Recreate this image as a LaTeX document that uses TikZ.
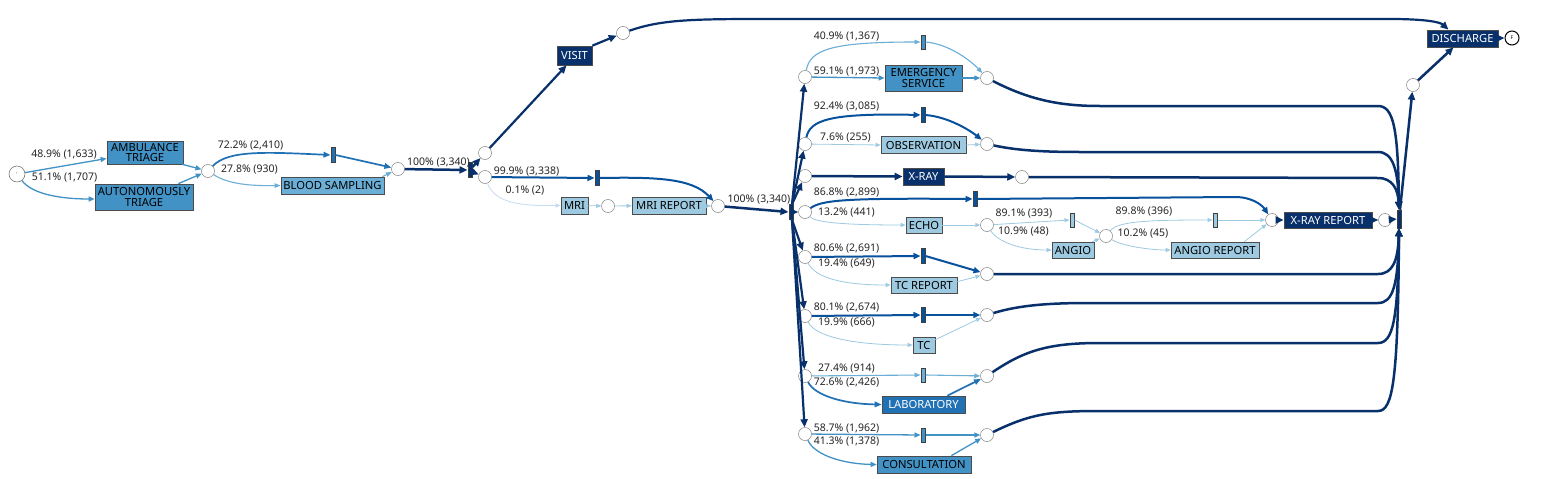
\documentclass[tikz,border=0pt]{standalone}
\usepackage{fontspec}
\setmainfont{Noto Sans}
\usetikzlibrary{arrows.meta}
\definecolor{cthree}{HTML}{C6DBEF}
\definecolor{cfour}{HTML}{9ECAE1}
\definecolor{cfive}{HTML}{6BAED6}
\definecolor{csix}{HTML}{4292C6}
\definecolor{cseven}{HTML}{2171B5}
\definecolor{ceight}{HTML}{08519C}
\definecolor{cnine}{HTML}{08306B}
\tikzset{
  box/.style={draw=black!70, line width=0.7pt, inner sep=0.5pt, align=center, font=\fontsize{11.2}{10.5}\selectfont, text=black},
  dbox/.style={box, text=white},
  pl/.style={circle, draw=black!50, fill=white, line width=0.5pt, minimum size=13pt, inner sep=0pt},
  tb/.style={draw=black!75, line width=0.5pt, minimum width=4.5pt, minimum height=15pt, inner sep=0pt},
  lb/.style={font=\fontsize{10.5}{10.5}\selectfont, inner sep=0pt, text=black!85},
  wnine/.style={draw=cnine, line width=2.5pt, -{Triangle[length=8pt,width=7pt]}},
  weight/.style={draw=ceight, line width=2pt, -{Triangle[length=7pt,width=6pt]}},
  wseven/.style={draw=cseven, line width=1.7pt, -{Triangle[length=7pt,width=5.5pt]}},
  wsix/.style={draw=csix, line width=1.3pt, -{Triangle[length=6pt,width=5pt]}},
  wfive/.style={draw=cfive, line width=1.1pt, -{Triangle[length=6pt,width=4.5pt]}},
  wfour/.style={draw=cfour, line width=0.8pt, -{Triangle[length=5pt,width=4pt]}},
  wthree/.style={draw=cthree, line width=0.8pt, -{Triangle[length=5pt,width=4pt]}},
}
\begin{document}
\begin{tikzpicture}[x=1pt,y=-1pt]
\useasboundingbox[fill=white] (0,0) rectangle (1558,479);

% ---------- nodes ----------
\node[pl, minimum size=16pt, draw=black!60] (S) at (17,174) {\fontsize{6}{6}\selectfont ·};
\node[box, fill=csix, minimum width=76pt, minimum height=23pt] (amb) at (145,152.5) {AMBULANCE\\TRIAGE};
\node[box, fill=csix, minimum width=98pt, minimum height=26pt] (auto) at (144,197) {AUTONOMOUSLY\\TRIAGE};
\node[pl] (p1) at (208,171) {};
\node[tb, fill=cseven] (bar1) at (333,155) {};
\node[box, fill=cfive, minimum width=103pt, minimum height=17pt] (blood) at (332.5,185.5) {BLOOD SAMPLING};
\node[pl] (p2) at (398,169) {};
\node[tb, fill=cnine] (and1) at (470,170) {};
\node[pl] (pu) at (485,153) {};
\node[pl] (pl2) at (485,177) {};
\node[dbox, fill=cnine, minimum width=35pt, minimum height=19pt] (visit) at (574.5,55.5) {VISIT};
\node[pl] (pv) at (623,33) {};
\node[tb, fill=ceight] (bar2) at (597,178) {};
\node[box, fill=cfour, minimum width=27pt, minimum height=17pt] (mri) at (574.5,205.5) {MRI};
\node[pl] (pm) at (608,206) {};
\node[box, fill=cfour, minimum width=74pt, minimum height=17pt] (mrirep) at (669,205.5) {MRI REPORT};
\node[pl] (pmr) at (718,206) {};
\node[tb, fill=cnine, minimum height=15pt] (and2) at (791,212) {};

\node[pl] (sES) at (805,77) {};
\node[pl] (sOB) at (805,144) {};
\node[pl] (sXR) at (805,176) {};
\node[pl] (sEC) at (805,212) {};
\node[pl] (sTR) at (805,257) {};
\node[pl] (sTC) at (805,316) {};
\node[pl] (sLA) at (805,376) {};
\node[pl] (sCO) at (805,434) {};

\node[tb, fill=csix, minimum height=14pt] (barES) at (923,42) {};
\node[box, fill=csix, minimum width=77pt, minimum height=26pt] (es) at (923.5,78) {EMERGENCY\\SERVICE};
\node[pl] (jES) at (987,78) {};

\node[tb, fill=ceight] (barOB) at (923,115) {};
\node[box, fill=cfour, minimum width=85pt, minimum height=17pt] (obs) at (923.5,145) {OBSERVATION};
\node[pl] (jOB) at (987,144) {};

\node[dbox, fill=cnine, minimum width=41pt, minimum height=17pt] (xray) at (923.5,176.5) {X-RAY};
\node[pl] (jXR) at (1022,177) {};

\node[tb, fill=ceight] (barEC) at (975,199) {};
\node[box, fill=cfour, minimum width=36pt, minimum height=16pt] (echo) at (924,225) {ECHO};
\node[pl] (pEC) at (987,225) {};
\node[tb, fill=cfour, minimum height=14pt] (barAN) at (1072,220) {};
\node[box, fill=cfour, minimum width=42pt, minimum height=16pt] (angio) at (1073,250) {ANGIO};
\node[pl] (pAN) at (1106,236) {};
\node[tb, fill=cfour, minimum height=14pt] (barAR) at (1215,220) {};
\node[box, fill=cfour, minimum width=88pt, minimum height=16pt] (angiorep) at (1215,250) {ANGIO REPORT};
\node[pl] (pXR) at (1272,220) {};
\node[dbox, fill=cnine, minimum width=88pt, minimum height=16pt] (xrayrep) at (1328,220) {X-RAY REPORT};
\node[pl] (pXRb) at (1385,220) {};
\node[tb, fill=cnine, minimum width=4pt, minimum height=18pt] (bigbar) at (1399,219) {};

\node[tb, fill=ceight] (barTR) at (923,256) {};
\node[box, fill=cfour, minimum width=66pt, minimum height=16pt] (tcrep) at (924,285) {TC REPORT};
\node[pl] (jTR) at (987,274) {};

\node[tb, fill=ceight] (barTC) at (923,315) {};
\node[box, fill=cfour, minimum width=22pt, minimum height=16pt] (tc) at (924,345) {TC};
\node[pl] (jTC) at (987,315) {};

\node[tb, fill=cfive, minimum height=14pt] (barLA) at (923,375) {};
\node[dbox, fill=cseven, minimum width=83pt, minimum height=17pt] (lab) at (923.5,404.5) {LABORATORY};
\node[pl] (jLA) at (987,376) {};

\node[tb, fill=csix, minimum height=14pt] (barCO) at (923,435) {};
\node[box, fill=csix, minimum width=94pt, minimum height=17pt] (cons) at (924,464.5) {CONSULTATION};
\node[pl] (jCO) at (987,435) {};

\node[pl] (pD) at (1413,85) {};
\node[dbox, fill=cnine, minimum width=71pt, minimum height=17pt] (disch) at (1462.5,38.5) {DISCHARGE};
\node[circle, draw=black, line width=1pt, fill=white, minimum size=14pt, inner sep=0pt] (F) at (1512,38) {\fontsize{5}{5}\selectfont F};

% ---------- edges: start ----------
\draw[wsix] (S) -- ([yshift=-6pt]amb.west);
\draw[wsix] (S) .. controls (32,194) and (60,199) .. ([yshift=-2pt]auto.west);
\draw[wsix] ([xshift=-1pt]amb.south east) -- (p1);
\draw[wsix] ([xshift=-15pt]auto.north east) -- (p1);
\draw[wseven] (p1) .. controls (228,150) and (265,152) .. (bar1.west);
\draw[wfive] (p1) .. controls (228,184) and (250,186) .. (blood.west);
\draw[wseven] (bar1.east) -- (p2);
\draw[wfive] ([xshift=-2pt]blood.north east) -- (p2);
\draw[wnine] (p2) -- (and1.west);
\draw[wnine] ([yshift=3pt]and1.east) -- (pu);
\draw[wnine] ([yshift=-2pt]and1.east) -- (pl2);
\draw[wnine, line width=2.2pt] (pu) -- ([xshift=-8pt]visit.south);
\draw[wnine, line width=2.2pt] (visit.north east) -- (pv);
\draw[wnine, line width=2.2pt] (pv) .. controls (660,20) and (690,19) .. (760,19) -- (1390,19) .. controls (1425,19) and (1440,22) .. ([xshift=-14pt]disch.north);
\draw[weight] (pl2) -- (bar2.west);
\draw[wthree] (pl2) .. controls (495,203) and (520,206) .. (mri.west);
\draw[wfour] (mri) -- (pm);
\draw[wfour] (pm) -- (mrirep);
\draw[wfour] (mrirep) -- (pmr);
\draw[weight] (bar2.east) .. controls (655,177) and (692,178) .. (pmr);
\draw[wnine] (pmr) -- (and2.west);

% AND split
\draw[wnine, line width=2.2pt] ([xshift=1pt]and2.north) -- (sES);
\draw[wnine, line width=2.2pt] ([xshift=1pt]and2.north) -- (sOB);
\draw[wnine, line width=2.2pt] ([xshift=1pt]and2.north) -- (sXR);
\draw[wnine, line width=2.2pt] (and2.east) -- (sEC);
\draw[wnine, line width=2.2pt] ([xshift=1pt]and2.south) -- (sTR);
\draw[wnine, line width=2.2pt] ([xshift=1pt]and2.south) -- (sTC);
\draw[wnine, line width=2.2pt] ([xshift=1pt]and2.south) -- (sLA);
\draw[wnine, line width=2.2pt] ([xshift=1pt]and2.south) -- (sCO);

% ES
\draw[wfive] (sES) .. controls (810,50) and (830,42) .. (barES.west);
\draw[wsix] (sES) -- (es.west);
\draw[wfive] (barES.east) .. controls (950,44) and (972,62) .. (jES);
\draw[wsix] (es.east) -- (jES);
% OBS
\draw[weight] (sOB) .. controls (810,120) and (830,113) .. (barOB.west);
\draw[wfour] (sOB) -- (obs.west);
\draw[weight] (barOB.east) .. controls (950,117) and (972,132) .. (jOB);
\draw[wfour] (obs.east) -- (jOB);
% XR
\draw[wnine] (sXR) -- (xray.west);
\draw[wnine] (xray.east) -- (jXR);
% ECHO
\draw[weight] (sEC) .. controls (822,200) and (845,198) .. (barEC.west);
\draw[wfour] (sEC) .. controls (815,222) and (840,225) .. (echo.west);
\draw[weight] (barEC.east) -- (1235,197) .. controls (1252,197) and (1262,205) .. (pXR);
\draw[wfour] (echo) -- (pEC);
\draw[wfour] (pEC) -- (barAN.west);
\draw[wfour] (pEC) .. controls (998,242) and (1020,250) .. (angio.west);
\draw[wfour] (barAN.east) -- (pAN);
\draw[wfour] ([xshift=-2pt]angio.north east) -- (pAN);
\draw[wfour] (pAN) .. controls (1118,221) and (1150,220) .. (barAR.west);
\draw[wfour] (pAN) .. controls (1122,246) and (1150,250) .. (angiorep.west);
\draw[wfour] (barAR.east) -- (pXR);
\draw[wfour] ([xshift=-15pt]angiorep.north east) -- (pXR);
\draw[wnine] (pXR) -- (xrayrep);
\draw[wnine] (xrayrep) -- (pXRb);
\draw[wnine] (pXRb) -- (bigbar.west);
% TC REPORT
\draw[weight] (sTR) -- (barTR.west);
\draw[wfour] (sTR) .. controls (815,277) and (840,285) .. (tcrep.west);
\draw[weight] (barTR.east) -- (jTR);
\draw[wfour] ([yshift=-5pt]tcrep.north east) -- (jTR);
% TC
\draw[weight] (sTC) -- (barTC.west);
\draw[wfour] (sTC) .. controls (815,336) and (850,345) .. (tc.west);
\draw[weight] (barTC.east) -- (jTC);
\draw[wfour] ([yshift=-3pt]tc.north east) -- (jTC);
% LAB
\draw[wfive] (sLA) -- (barLA.west);
\draw[wseven] (sLA) .. controls (815,396) and (845,404) .. (lab.west);
\draw[wfive] (barLA.east) -- (jLA);
\draw[wseven] ([xshift=-18pt]lab.north east) -- (jLA);
% CONS
\draw[wsix] (sCO) -- (barCO.west);
\draw[wsix] (sCO) .. controls (815,456) and (845,464) .. (cons.west);
\draw[wsix] (barCO.east) -- (jCO);
\draw[wsix] ([xshift=-20pt]cons.north east) -- (jCO);

% joins to big bar
\draw[wnine] (jES) .. controls (1030,100) and (1060,106) .. (1100,106) -- (1378,106) .. controls (1394,106) and (1398,130) .. (bigbar.north);
\draw[wnine] (jOB) .. controls (1015,150) and (1040,152) .. (1080,152) -- (1378,152) .. controls (1393,152) and (1398,170) .. (bigbar.north);
\draw[wnine] (jXR) -- (1378,178) .. controls (1393,178) and (1398,190) .. (bigbar.north);
\draw[wnine] (jTR) -- (1378,274) .. controls (1393,274) and (1398,260) .. (bigbar.south);
\draw[wnine] (jTC) .. controls (1020,305) and (1050,303) .. (1090,303) -- (1378,303) .. controls (1393,303) and (1398,285) .. (bigbar.south);
\draw[wnine] (jLA) .. controls (1025,350) and (1050,343) .. (1100,343) -- (1378,343) .. controls (1393,343) and (1398,320) .. (bigbar.south);
\draw[wnine] (jCO) .. controls (1030,414) and (1050,411) .. (1100,411) -- (1378,411) .. controls (1393,411) and (1398,380) .. (bigbar.south);

% end
\draw[wnine] ([xshift=1pt]bigbar.north) -- (pD);
\draw[wnine] (pD) -- ([xshift=-9pt]disch.south);
\draw[wnine, line width=2pt] (disch) -- (F);

% ---------- labels ----------
\node[lb] (l1) at (64,155) {48.9\% (1,633)};
\node[lb] (l2) at (64.5,178) {51.1\% (1,707)};
\node[lb] (l3) at (250.5,146) {72.2\% (2,410)};
\node[lb] (l4) at (249.5,170) {27.8\% (930)};
\node[lb] (l5) at (438.5,163) {100\% (3,340)};
\node[lb] (l6) at (526.5,172) {99.9\% (3,338)};
\node[lb] (l7) at (525,191) {0.1\% (2)};
\node[lb] (l8) at (759,200) {100\% (3,340)};
\node[lb] (l9) at (846.5,37) {40.9\% (1,367)};
\node[lb] (l10) at (846.5,72) {59.1\% (1,973)};
\node[lb] (l11) at (846.5,107) {92.4\% (3,085)};
\node[lb] (l12) at (845.5,138) {7.6\% (255)};
\node[lb] (l13) at (846.5,193) {86.8\% (2,899)};
\node[lb] (l14) at (846.5,213) {13.2\% (441)};
\node[lb] (l15) at (1024,214) {89.1\% (393)};
\node[lb] (l16) at (1023.5,232) {10.9\% (48)};
\node[lb] (l17) at (1144,212) {89.8\% (396)};
\node[lb] (l18) at (1143,234) {10.2\% (45)};
\node[lb] (l19) at (846.5,249) {80.6\% (2,691)};
\node[lb] (l20) at (846.5,264) {19.4\% (649)};
\node[lb] (l21) at (846.5,308) {80.1\% (2,674)};
\node[lb] (l22) at (846.5,323) {19.9\% (666)};
\node[lb] (l23) at (846.5,369) {27.4\% (914)};
\node[lb] (l24) at (846.5,383) {72.6\% (2,426)};
\node[lb] (l25) at (846.5,429) {58.7\% (1,962)};
\node[lb] (l26) at (846.5,442) {41.3\% (1,378)};
\end{tikzpicture}
\end{document}
